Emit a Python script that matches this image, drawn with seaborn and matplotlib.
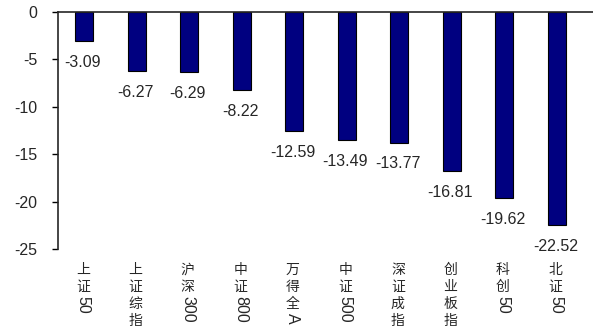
import matplotlib
matplotlib.use("Agg")
import matplotlib.pyplot as plt
import seaborn as sns
import pandas as pd

categories = ["上证50", "上证综指", "沪深300", "中证800", "万得全A",
              "中证500", "深证成指", "创业板指", "科创50", "北证50"]
values = [-3.09, -6.27, -6.29, -8.22, -12.59, -13.49, -13.77, -16.81, -19.62, -22.52]

df = pd.DataFrame({"name": categories, "value": values})

sns.set_style("ticks")
plt.rcParams['font.family'] = ['Liberation Sans', 'Noto Sans CJK SC', 'DejaVu Sans']

fig = plt.figure(figsize=(5.93, 3.36), dpi=100)
ax = fig.add_axes([58 / 593, 87 / 336, 535 / 593, 237 / 336])

sns.barplot(data=df, x="name", y="value", color="#000080", edgecolor="black",
            linewidth=0.8, width=0.34, saturation=1, ax=ax)

ax.set_ylim(-25, 0)
ax.set_xlim(-0.5, 9.69)
ax.set_yticks([0, -5, -10, -15, -20, -25])
ax.set_yticklabels(["0", "-5", "-10", "-15", "-20", "-25"], fontsize=11.5)
ax.tick_params(axis="y", length=4, width=1, pad=11, color="black")
ax.set_xticks([])
ax.set_xlabel("")
ax.set_ylabel("")
for s in ["bottom", "right"]:
    ax.spines[s].set_visible(False)
ax.spines["top"].set_linewidth(1.2)
ax.spines["left"].set_linewidth(1.2)

# value labels below bar ends
for i, v in enumerate(values):
    ax.annotate(f"{v:.2f}", xy=(i, v), xytext=(-1, -10), textcoords="offset points",
                ha="center", va="top", fontsize=11.5)

# vertical category labels: CJK stacked, digits/latin rotated
px = 0.72
for i, name in enumerate(categories):
    y = -14
    j = 0
    while j < len(name):
        ch = name[j]
        if ord(ch) > 127:
            ax.annotate(ch, xy=(i, 0), xycoords=("data", "axes fraction"),
                        xytext=(-1, y * px), textcoords="offset points",
                        ha="center", va="top", fontsize=10,
                        family=["Noto Sans CJK SC", "DejaVu Sans"])
            y -= 17
            j += 1
        else:
            run = ""
            while j < len(name) and ord(name[j]) <= 127:
                run += name[j]
                j += 1
            ax.annotate(run, xy=(i, 0), xycoords=("data", "axes fraction"),
                        xytext=(-1, (y + 1) * px), textcoords="offset points",
                        ha="center", va="top", fontsize=11.5, rotation=-90)
            y -= 10 * len(run)

plt.savefig("out.png", dpi=100)
